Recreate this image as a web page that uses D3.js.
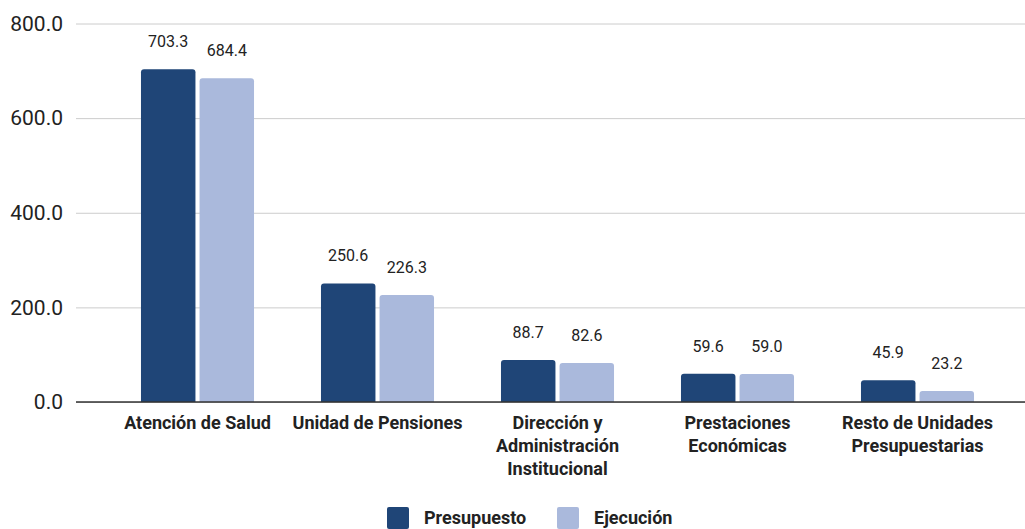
<!DOCTYPE html>
<html>
<head>
<meta charset="utf-8">
<script src="https://cdn.jsdelivr.net/npm/d3@7"></script>
<style>
	body { margin: 0; background: #fff; }
	svg { display: block; font-family: Roboto, sans-serif; }
</style>
</head>
<body>
<svg id="chart" width="1025" height="529"></svg>
<script>
var categories = [
		["Atención de Salud"],
		["Unidad de Pensiones"],
		["Dirección y", "Administración", "Institucional"],
		["Prestaciones", "Económicas"],
		["Resto de Unidades", "Presupuestarias"]
	],
	seriesNames = ["Presupuesto", "Ejecución"],
	presupuesto = [703.3, 250.6, 88.7, 59.6, 45.9],
	ejecucion = [684.4, 226.3, 82.6, 59.0, 23.2],
	yTicks = [0, 200, 400, 600, 800],
	colors = ["#1f4577", "#aab9dc"];

var svg = d3.select("#chart"),
	gridLeft = 76,
	gridRight = 1025,
	plotTop = 23.5,
	plotBottom = 402;

var x = d3.scaleBand()
	.domain(d3.range(categories.length))
	.range([107.5, 1007.5])
	.paddingInner(0.372)
	.paddingOuter(0.186);

var x1 = d3.scaleBand()
	.domain(d3.range(seriesNames.length))
	.range([0, x.bandwidth()])
	.paddingInner(0.07);

var y = d3.scaleLinear().domain([0, 800]).range([plotBottom, plotTop]);

// grid lines + tick labels
var yAxis = svg.append("g")
	.attr("transform", "translate(" + gridLeft + ",0)")
	.call(d3.axisLeft(y).tickValues(yTicks).tickSize(-(gridRight - gridLeft)).tickPadding(13).tickFormat(d3.format(".1f")));
yAxis.select(".domain").remove();
yAxis.selectAll(".tick line").attr("stroke", "#cccccc").attr("stroke-width", 1);
yAxis.selectAll(".tick text")
	.attr("fill", "#222")
	.attr("font-size", "21px")
	.attr("font-family", "Roboto, sans-serif");

// rounded-top bar path
function barPath(x0, w, yTop, yBot){
	var r = Math.min(3, (yBot - yTop));
	return "M" + x0 + "," + yBot +
		"V" + (yTop + r) +
		"Q" + x0 + "," + yTop + " " + (x0 + r) + "," + yTop +
		"H" + (x0 + w - r) +
		"Q" + (x0 + w) + "," + yTop + " " + (x0 + w) + "," + (yTop + r) +
		"V" + yBot + "Z";
}

var rows = categories.map(function(c, i){
	return { i: i, values: [presupuesto[i], ejecucion[i]] };
});

var groups = svg.selectAll("g.group")
	.data(rows)
	.enter().append("g")
	.attr("class", "group")
	.attr("transform", function(d){ return "translate(" + x(d.i) + ",0)"; });

groups.selectAll("path")
	.data(function(d){ return d.values; })
	.enter().append("path")
	.attr("d", function(v, j){ return barPath(x1(j), x1.bandwidth(), y(v), y(0)); })
	.attr("fill", function(v, j){ return colors[j]; });

groups.selectAll("text.val")
	.data(function(d){ return d.values; })
	.enter().append("text")
	.attr("class", "val")
	.attr("x", function(v, j){ return x1(j) + x1.bandwidth() / 2; })
	.attr("y", function(v){ return y(v) - 22; })
	.attr("text-anchor", "middle")
	.attr("font-size", "16px")
	.attr("fill", "#222")
	.text(function(v){ return d3.format(".1f")(v); });

// baseline
svg.append("line")
	.attr("x1", gridLeft).attr("x2", gridRight)
	.attr("y1", y(0)).attr("y2", y(0))
	.attr("stroke", "#333").attr("stroke-width", 1.5);

// category labels
var catLabels = svg.selectAll("text.cat")
	.data(categories)
	.enter().append("text")
	.attr("class", "cat")
	.attr("x", function(c, i){ return x(i) + x.bandwidth() / 2; })
	.attr("y", 429)
	.attr("text-anchor", "middle")
	.attr("font-size", "18px")
	.attr("font-weight", "bold")
	.attr("fill", "#222");
catLabels.selectAll("tspan")
	.data(function(c){ return c; })
	.enter().append("tspan")
	.attr("x", function(){ return this.parentNode.getAttribute("x"); })
	.attr("dy", function(t, k){ return k ? 23 : 0; })
	.text(function(t){ return t; });

// legend
var legendX = [387, 557];
var legend = svg.selectAll("g.legend")
	.data(seriesNames)
	.enter().append("g")
	.attr("class", "legend")
	.attr("transform", function(s, j){ return "translate(" + legendX[j] + ",507)"; });
legend.append("rect")
	.attr("width", 22).attr("height", 22).attr("rx", 2)
	.attr("fill", function(s, j){ return colors[j]; });
legend.append("text")
	.attr("x", 37).attr("y", 17)
	.attr("font-size", "18px")
	.attr("font-weight", "bold")
	.attr("fill", "#222")
	.text(function(s){ return s; });
</script>
</body>
</html>
